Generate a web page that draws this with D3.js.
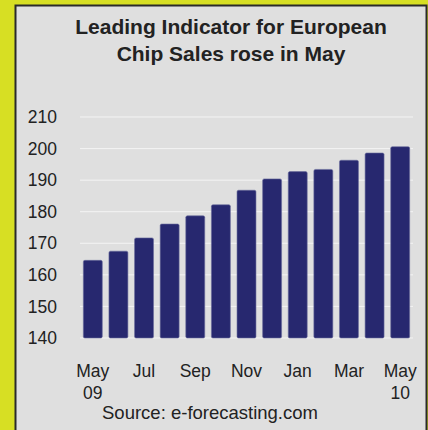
<!DOCTYPE html>
<html>
<head>
<meta charset="utf-8">
<script src="https://cdn.jsdelivr.net/npm/d3@7"></script>
<style>
  body { margin: 0; background: #d7df23; }
  svg { display: block; font-family: "Liberation Sans", Arial, sans-serif; }
</style>
</head>
<body>
<svg id="chart" width="428" height="430"></svg>
<script>
// months, May 09 .. May 10
var months = ["May 09", "Jun 09", "Jul 09", "Aug 09", "Sep 09", "Oct 09", "Nov 09",
              "Dec 09", "Jan 10", "Feb 10", "Mar 10", "Apr 10", "May 10"];
var values = [164.6, 167.5, 171.7, 176.1, 178.7, 182.2, 186.8, 190.4, 192.7, 193.4, 196.3, 198.6, 200.6];
var yTicks = [140, 150, 160, 170, 180, 190, 200, 210];
// label shown under every other bar: [top line, bottom line]
var xLabels = {
  "May 09": ["May", "09"], "Jul 09": ["Jul", ""], "Sep 09": ["Sep", ""], "Nov 09": ["Nov", ""],
  "Jan 10": ["Jan", ""], "Mar 10": ["Mar", ""], "May 10": ["May", "10"]
};

var svg = d3.select("#chart");

// grey panel
svg.append("rect")
  .attr("x", 15.5).attr("y", 5.5)
  .attr("width", 411).attr("height", 440)
  .attr("fill", "#dfdfdf")
  .attr("stroke", "#2a2a2a")
  .attr("stroke-width", 2);

// title
var title = svg.append("text")
  .attr("text-anchor", "middle")
  .attr("font-weight", "bold")
  .attr("font-size", 21)
  .attr("fill", "#222");
title.append("tspan").attr("x", 231).attr("y", 34).text("Leading Indicator for European");
title.append("tspan").attr("x", 231).attr("y", 61).text("Chip Sales rose in May");

var x = d3.scaleBand()
  .domain(months)
  .range([80, 413])
  .paddingInner(0.26)
  .paddingOuter(0.13);

var y = d3.scaleLinear()
  .domain([140, 210])
  .range([338, 117]);

// grid lines
svg.append("g")
  .selectAll("line")
  .data(yTicks)
  .enter().append("line")
    .attr("x1", 80).attr("x2", 413)
    .attr("y1", function (d) { return y(d); })
    .attr("y2", function (d) { return y(d); })
    .attr("stroke", "#f4f4f4")
    .attr("stroke-width", 1);

// y axis labels
var yAxis = svg.append("g")
  .attr("transform", "translate(57,0)")
  .call(d3.axisLeft(y).tickValues(yTicks).tickSize(0).tickPadding(0));
yAxis.select(".domain").remove();
yAxis.selectAll("text")
  .attr("font-family", "Liberation Sans, Arial, sans-serif")
  .attr("font-size", 17.5)
  .attr("fill", "#222");

// bars
svg.append("g")
  .selectAll("rect")
  .data(values)
  .enter().append("rect")
    .attr("x", function (d, i) { return x(months[i]); })
    .attr("y", function (d) { return y(d); })
    .attr("width", x.bandwidth())
    .attr("height", function (d) { return y(140) - y(d); })
    .attr("rx", 1.5)
    .attr("fill", "#27286f")
    .attr("stroke", "#6a6b9c")
    .attr("stroke-width", 0.6);

// x labels
var xl = svg.append("g")
  .selectAll("text")
  .data(months.filter(function (m) { return xLabels[m]; }))
  .enter().append("text")
    .attr("text-anchor", "middle")
    .attr("font-size", 17.5)
    .attr("fill", "#222");
xl.append("tspan")
  .attr("x", function (m) { return x(m) + x.bandwidth() / 2; })
  .attr("y", 377)
  .text(function (m) { return xLabels[m][0]; });
xl.append("tspan")
  .attr("x", function (m) { return x(m) + x.bandwidth() / 2; })
  .attr("y", 399)
  .text(function (m) { return xLabels[m][1]; });

// source
svg.append("text")
  .attr("x", 210).attr("y", 419)
  .attr("text-anchor", "middle")
  .attr("font-size", 18.5)
  .attr("fill", "#222")
  .text("Source: e-forecasting.com");
</script>
</body>
</html>
